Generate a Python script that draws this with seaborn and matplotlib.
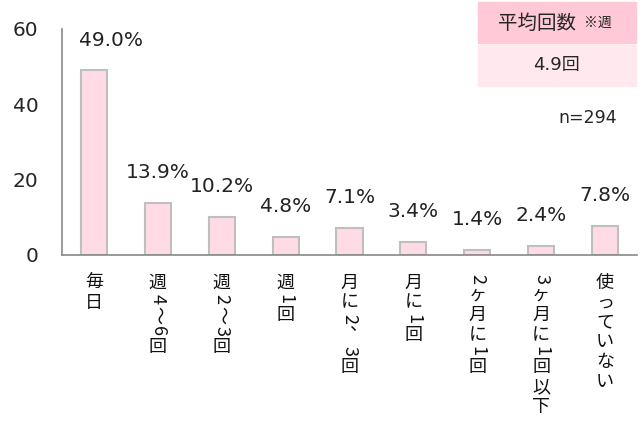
import matplotlib
matplotlib.use("Agg")
import matplotlib.pyplot as plt
import seaborn as sns
import pandas as pd
from matplotlib.patches import Rectangle

# data
categories = ["毎日", "週4～6回", "週2～3回", "週1回", "月に2、3回", "月に1回",
              "2ヶ月に1回", "3ヶ月に1回以下", "使っていない"]
values = [49.0, 13.9, 10.2, 4.8, 7.1, 3.4, 1.4, 2.4, 7.8]
avg_title = "平均回数"
avg_note = "※週"
avg_value = "4.9回"
n_label = "n=294"

sns.set_style("white")
plt.rcParams["font.family"] = ["DejaVu Sans", "Noto Sans CJK JP"]
cjk = ["Noto Sans CJK JP", "DejaVu Sans"]

df = pd.DataFrame({"cat": categories, "val": values})

fig = plt.figure(figsize=(6.43, 4.26), dpi=100)
ax = fig.add_axes([62 / 643, 1 - 255 / 426, (637 - 62) / 643, (255 - 29) / 426])

sns.barplot(data=df, x="cat", y="val", color="#FFDCE5", edgecolor="#BFBFBF",
            linewidth=1.5, width=0.41, saturation=1, ax=ax)

ax.set_xlim(-0.5, len(categories) - 0.5)
ax.set_ylim(0, 60)
ax.set_yticks([0, 20, 40, 60])
ax.tick_params(axis="y", labelsize=14.5, length=5, color="#888888", width=1, pad=12)
ax.set_xticks([i - 0.5 for i in range(len(categories) + 1)])
ax.set_xticklabels([])
ax.tick_params(axis="x", length=5, color="#888888", width=1, direction="out")
ax.set_xlabel("")
ax.set_ylabel("")
for s in ["top", "right"]:
    ax.spines[s].set_visible(False)
for s in ["left", "bottom"]:
    ax.spines[s].set_color("#888888")
    ax.spines[s].set_linewidth(1.2)

# value labels (first one sits a bit to the right, as in the original)
for i, v in enumerate(values):
    dx = 12 if i == 0 else 0
    ax.annotate(f"{v:.1f}%", (i, v), xytext=(dx, 15), textcoords="offset points",
                ha="center", va="bottom", fontsize=14.5, color="#222222")

# vertical category labels, one character at a time
full_step = 14.2   # points per full-width char
half_step = 9.0    # points per half-width char
for i, lab in enumerate(categories):
    y = -13
    for ch in lab:
        st = half_step if ch.isascii() else full_step
        rot = -90 if (ch.isascii() or ch == "～") else 0
        ox, oy = (6, 7) if ch == "、" else (0, 0)
        ax.annotate(ch, (i, 0), xytext=(ox, y - st / 2 + oy),
                    textcoords="offset points", ha="center", va="center",
                    fontsize=13, rotation=rot, color="#111111",
                    family=cjk, annotation_clip=False)
        y -= st

# average box (top right)
fig.patches.append(Rectangle((478 / 643, 1 - 43 / 426), 158 / 643, 41 / 426,
                             transform=fig.transFigure, color="#FFC9D7", zorder=0))
fig.patches.append(Rectangle((478 / 643, 1 - 86 / 426), 158 / 643, 41 / 426,
                             transform=fig.transFigure, color="#FFE9EF", zorder=0))
fig.text(537 / 643, 1 - 23 / 426, avg_title, ha="center", va="center", fontsize=14,
         family=cjk)
fig.text(584 / 643, 1 - 23 / 426, avg_note, ha="left", va="center", fontsize=10,
         family=cjk)
fig.text(556 / 643, 1 - 65 / 426, avg_value, ha="center", va="center", fontsize=13,
         family=["DejaVu Sans", "Noto Sans CJK JP"])
fig.text(617 / 643, 1 - 118 / 426, n_label, ha="right", va="center", fontsize=12.5)

fig.savefig("out.png", dpi=100)
